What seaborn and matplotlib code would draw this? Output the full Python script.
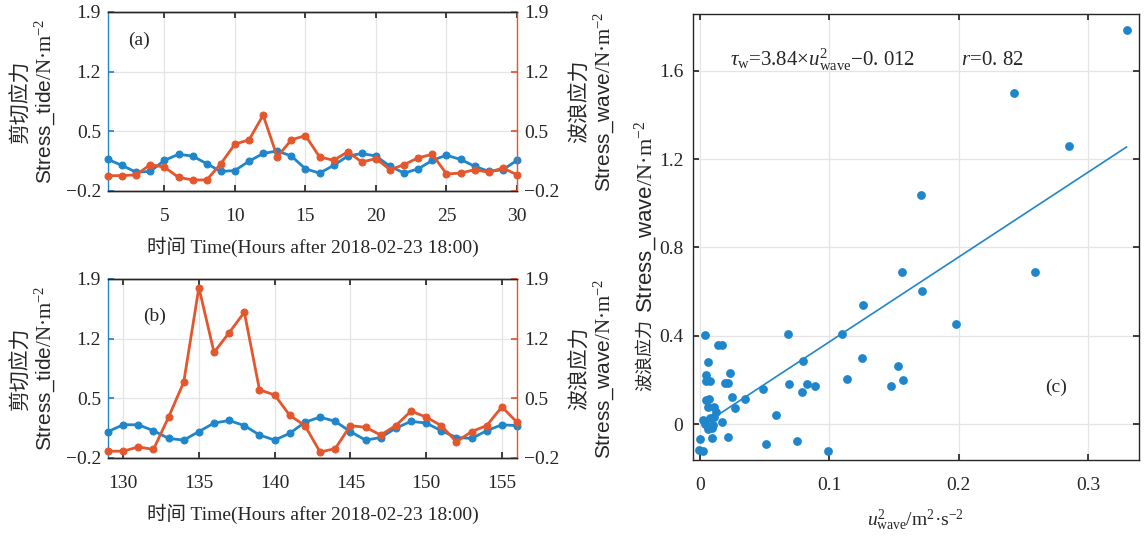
import numpy as np
import matplotlib
matplotlib.use("Agg")
import matplotlib.pyplot as plt
import seaborn as sns

# ---------------- data ----------------
hours_a = list(range(1, 31))
tide_a = [0.17, 0.10, 0.02, 0.03, 0.16, 0.23, 0.21, 0.12, 0.03, 0.04,
          0.15, 0.24, 0.27, 0.21, 0.06, 0.01, 0.10, 0.21, 0.24, 0.21,
          0.09, 0.01, 0.06, 0.16, 0.22, 0.17, 0.09, 0.03, 0.05, 0.16]
wave_a = [-0.02, -0.02, -0.01, 0.11, 0.08, -0.04, -0.07, -0.07, 0.12, 0.35,
          0.40, 0.69, 0.20, 0.40, 0.45, 0.20, 0.16, 0.26, 0.14, 0.18,
          0.05, 0.11, 0.19, 0.23, 0.00, 0.01, 0.05, 0.02, 0.07, -0.01]

hours_b = list(range(129, 157))
tide_b = [0.11, 0.19, 0.19, 0.12, 0.03, 0.01, 0.11, 0.21, 0.24, 0.18,
          0.07, 0.01, 0.09, 0.22, 0.28, 0.23, 0.11, 0.01, 0.04, 0.15,
          0.23, 0.21, 0.12, 0.04, 0.03, 0.12, 0.19, 0.18]
wave_b = [-0.12, -0.12, -0.07, -0.10, 0.28, 0.69, 1.80, 1.04, 1.27, 1.51,
          0.60, 0.54, 0.30, 0.18, -0.13, -0.09, 0.18, 0.16, 0.07, 0.18,
          0.35, 0.28, 0.18, -0.01, 0.11, 0.18, 0.40, 0.22]

u2_wave = [0.330, 0.243, 0.285, 0.171, 0.156, 0.259, 0.172, 0.126, 0.198, 0.004,
           0.068, 0.110, 0.014, 0.017, 0.006, 0.080, 0.125, 0.153, 0.005, 0.023,
           0.005, 0.008, 0.019, 0.022, 0.114, 0.157, 0.069, 0.083, 0.089, 0.148,
           0.079, 0.049, 0.025, 0.035, 0.005, 0.007, 0.027, 0.011, 0.006, 0.012,
           0.011, 0.017, 0.059, 0.002, 0.004, 0.006, 0.009, 0.006, 0.010, 0.008,
           0.000, 0.009, 0.022, 0.051, 0.075, 0.099, -0.001, 0.002]
stress_wave = [1.786, 1.499, 1.261, 1.037, 0.688, 0.688, 0.601, 0.539, 0.451, 0.402,
               0.409, 0.406, 0.357, 0.360, 0.282, 0.284, 0.301, 0.262, 0.221, 0.231,
               0.195, 0.194, 0.188, 0.188, 0.205, 0.201, 0.180, 0.180, 0.171, 0.172,
               0.145, 0.159, 0.121, 0.113, 0.110, 0.113, 0.072, 0.078, 0.078, 0.056,
               0.034, 0.011, 0.040, 0.016, 0.000, -0.012, -0.019, -0.023, -0.006, 0.027,
               -0.070, -0.063, -0.060, -0.089, -0.076, -0.122, -0.119, -0.122]

fit_slope = 3.84
fit_intercept = -0.012
fit_x_range = [0.012, 0.330]

ts_yticks = [-0.2, 0.5, 1.2, 1.9]
xticks_a = [5, 10, 15, 20, 25, 30]
xticks_b = [130, 135, 140, 145, 150, 155]
xticks_c = [0, 0.1, 0.2, 0.3]
xticklabels_c = ["0", "0.1", "0.2", "0.3"]
yticks_c = [0, 0.4, 0.8, 1.2, 1.6]
yticklabels_c = ["0", "0.4", "0.8", "1.2", "1.6"]

# ---------------- style ----------------
sns.set_theme(style="white")
plt.rcParams['font.family'] = ['Liberation Serif', 'Noto Sans CJK SC', 'DejaVu Sans']
plt.rcParams['mathtext.fontset'] = 'custom'
plt.rcParams['mathtext.rm'] = 'Liberation Serif'
plt.rcParams['mathtext.it'] = 'Liberation Serif:italic'
plt.rcParams['mathtext.sf'] = 'Liberation Sans'
plt.rcParams['axes.unicode_minus'] = True

BLUE = '#1f86cc'
ORANGE = '#e4562c'
DARK = '#262626'
GRID = '#e4e4e4'
FS = 14

W, H = 1144, 540
fig = plt.figure(figsize=(W / 100, H / 100), dpi=100, facecolor='white')


def ts_panel(rect, hours, tide, wave, xlim, xticks, tag, tagpos):
    ax = fig.add_axes(rect)
    sns.lineplot(x=hours, y=tide, ax=ax, color=BLUE, marker='o', markersize=5,
                 markeredgecolor=BLUE, linewidth=2, clip_on=False, zorder=3)
    ax2 = ax.twinx()
    sns.lineplot(x=hours, y=wave, ax=ax2, color=ORANGE, marker='o', markersize=5,
                 markeredgecolor=ORANGE, linewidth=2, clip_on=False, zorder=3)
    for a in (ax, ax2):
        a.set_ylim(-0.2, 1.9)
        a.set_yticks(ts_yticks)
        a.set_xlim(*xlim)
        a.set_xticks(xticks)
        a.spines['top'].set_color(DARK)
        a.spines['bottom'].set_color(DARK)
        for s in a.spines.values():
            s.set_linewidth(1.0)
    ax.spines['left'].set_color(BLUE)
    ax.spines['right'].set_visible(False)
    ax2.spines['left'].set_visible(False)
    ax2.spines['right'].set_color(ORANGE)
    ax.grid(True, color=GRID, linewidth=0.9)
    ax.set_axisbelow(True)
    ax.tick_params(axis='x', direction='in', top=True, bottom=True, length=4,
                   color=DARK, labelsize=FS, pad=12)
    ax.tick_params(axis='y', direction='in', left=True, length=4, color=BLUE,
                   labelsize=FS, pad=5)
    ax2.tick_params(axis='y', direction='in', right=True, length=4, color=ORANGE,
                    labelsize=FS, pad=5)
    ax2.tick_params(axis='x', bottom=False, top=False, labelbottom=False)
    ax.set_xlabel("时间 Time(Hours after 2018-02-23 18:00)", fontsize=FS, labelpad=9)
    ax.set_ylabel("剪切应力\n$\\mathsf{Stress\\_tide}$/N·m$^{-2}$", fontsize=15,
                  labelpad=6, linespacing=1.05)
    ax2.set_ylabel("波浪应力\n$\\mathsf{Stress\\_wave}$/N·m$^{-2}$", fontsize=15,
                   labelpad=8, rotation=90, linespacing=1.05)
    ax.text(tagpos[0], tagpos[1], tag, transform=ax.transAxes, fontsize=FS,
            ha='left', va='center')
    return ax, ax2


ts_panel([108 / W, 1 - 191 / H, 409 / W, 179 / H], hours_a, tide_a, wave_a,
         (1, 30), xticks_a, "(a)", (0.049, 0.844))
ts_panel([108 / W, 1 - 458 / H, 409 / W, 179 / H], hours_b, tide_b, wave_b,
         (129, 156), xticks_b, "(b)", (0.086, 0.79))

# ---------------- panel (c) ----------------
axc = fig.add_axes([693 / W, 1 - 460 / H, 446 / W, 446 / H])
sns.scatterplot(x=u2_wave, y=stress_wave, ax=axc, color=BLUE, s=40, linewidth=0,
                zorder=3)
fx = np.array(fit_x_range)
sns.lineplot(x=fx, y=fit_slope * fx + fit_intercept, ax=axc, color=BLUE,
             linewidth=1.2, zorder=2)
axc.set_xlim(-0.0054, 0.3395)
axc.set_ylim(-0.163, 1.857)
axc.set_xticks(xticks_c)
axc.set_xticklabels(xticklabels_c)
axc.set_yticks(yticks_c)
axc.set_yticklabels(yticklabels_c)
axc.grid(True, color=GRID, linewidth=0.9)
axc.set_axisbelow(True)
for s in axc.spines.values():
    s.set_color(DARK)
    s.set_linewidth(1.0)
axc.tick_params(direction='in', top=True, right=True, bottom=True, left=True,
                length=4, color=DARK, labelsize=FS)
axc.tick_params(axis='x', pad=12)
axc.tick_params(axis='y', pad=7)
axc.set_xlabel("$u^{2}_{\\mathrm{wave}}$/m$^{2}$·s$^{-2}$", fontsize=FS, labelpad=10)

t1 = axc.text(-0.107, 0.155, "波浪应力", transform=axc.transAxes, rotation=90,
              fontsize=13, ha='center', va='bottom')
axc.annotate("$\\mathsf{Stress\\_wave}$/N·m$^{-2}$", xy=(0.5, 1), xycoords=t1,
             xytext=(0, 4), textcoords='offset points', rotation=90,
             fontsize=16, ha='center', va='bottom')

axc.text(0.083, 0.897,
         "$\\tau_{\\mathrm{w}}$=3.84×$u^{2}_{\\mathrm{wave}}$−0. 012         $r$=0. 82",
         transform=axc.transAxes, fontsize=15, ha='left', va='center')
axc.text(0.79, 0.164, "(c)", transform=axc.transAxes, fontsize=FS,
         ha='left', va='center')

fig.savefig("out.png", dpi=100, facecolor='white')
